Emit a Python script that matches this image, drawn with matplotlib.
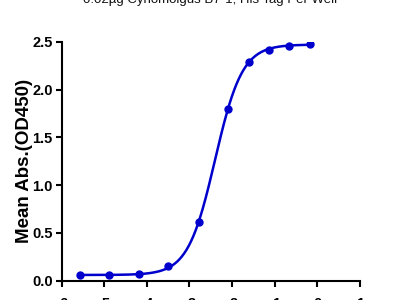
import numpy as np
import matplotlib
matplotlib.use("Agg")
import matplotlib.pyplot as plt

plt.rcParams['font.family'] = ['Liberation Sans', 'DejaVu Sans']

# data (log concentration vs mean absorbance)
log_conc = [-5.58, -4.88, -4.18, -3.50, -2.78, -2.09, -1.61, -1.14, -0.66, -0.18]
od450 = [0.06, 0.06, 0.07, 0.15, 0.61, 1.80, 2.29, 2.41, 2.45, 2.48]
# 4PL fit parameters (bottom, top, logEC50, hill)
fit_bottom, fit_top, fit_logec50, fit_hill = 0.06, 2.47, -2.40, 1.36
x_ticks = [-6, -5, -4, -3, -2, -1, 0, 1]
y_ticks = [0.0, 0.5, 1.0, 1.5, 2.0, 2.5]
title = "0.02µg Cynomolgus B7-1, His Tag Per Well"
ylabel = "Mean Abs.(OD450)"

color = "#0000CD"

fig = plt.figure(figsize=(4, 3), dpi=100)
ax = fig.add_axes([0.154, 0.0643, 0.746, 0.7967])

xs = np.linspace(min(log_conc), max(log_conc), 300)
ys = fit_bottom + (fit_top - fit_bottom) / (1 + 10 ** ((fit_logec50 - xs) * fit_hill))
ax.plot(xs, ys, color=color, lw=1.8, zorder=2)
ax.plot(log_conc, od450, 'o', color=color, ms=5, zorder=3)

ax.set_xlim(-6, 1)
ax.set_ylim(0, 2.5)
ax.set_xticks(x_ticks)
ax.set_xticklabels([str(t) for t in x_ticks])
ax.set_yticks(y_ticks)
ax.set_yticklabels([f"{t:.1f}" for t in y_ticks])
for s in ['top', 'right']:
    ax.spines[s].set_visible(False)
for s in ['left', 'bottom']:
    ax.spines[s].set_linewidth(1.5)
    ax.spines[s].set_color('black')
ax.tick_params(direction='out', length=4.5, width=1.5, labelsize=10.5, pad=2)
for lab in ax.get_xticklabels() + ax.get_yticklabels():
    lab.set_fontweight('bold')
ax.tick_params(axis='x', pad=7.5)
ax.set_ylabel(ylabel, fontsize=13.5, fontweight='bold', labelpad=-1)

fig.text(0.525, 1.0, title, ha='center', va='center', fontsize=9.5, color='#111111')

fig.savefig("out.png", dpi=100)
